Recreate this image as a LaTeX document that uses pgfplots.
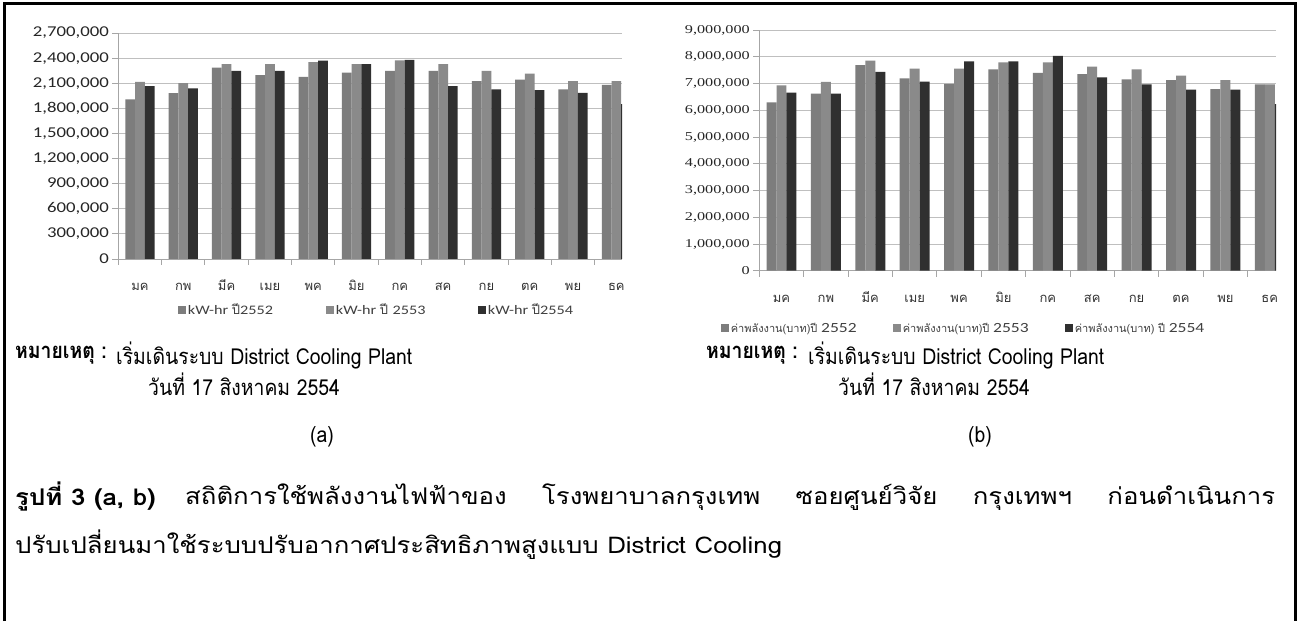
\documentclass[border=0pt]{standalone}
\usepackage{pgfplots}
\pgfplotsset{compat=1.18}
\usepackage{pgfplotstable}
\usepackage{fontspec}
\setmainfont{Loma}[Script=Thai]
\newfontfamily\thaif[Script=Thai]{Loma}
\newfontfamily\thain[Script=Thai, FakeStretch=0.88]{Loma}
\newfontfamily\thaiw[Script=Thai, FakeStretch=1.12]{Loma}
\newfontfamily\calf[FakeStretch=1.25]{Carlito}
\newfontfamily\serf[FakeStretch=1.35]{Liberation Serif}
\definecolor{ga}{HTML}{7D7D7D}
\definecolor{gb}{HTML}{8A8A8A}
\definecolor{gc}{HTML}{303030}
\definecolor{gridc}{HTML}{BFBFBF}
\definecolor{axc}{HTML}{A6A6A6}
\definecolor{legt}{HTML}{404040}

\pgfplotstableread{
m a b c
0 1906000 2116000 2065000
1 1981000 2100000 2037000
2 2287000 2327000 2247000
3 2196000 2327000 2247000
4 2176000 2351000 2370000
5 2227000 2327000 2327000
6 2247000 2374000 2378000
7 2247000 2327000 2065000
8 2124000 2247000 2025000
9 2144000 2216000 2017000
10 2025000 2124000 1985000
11 2081000 2124000 1850000
}\kwh

\pgfplotstableread{
m a b c
0 6295000 6930000 6657000
1 6620000 7056000 6620000
2 7690000 7853000 7430000
3 7190000 7554000 7068000
4 6990000 7554000 7828000
5 7530000 7790000 7830000
6 7400000 7790000 8030000
7 7350000 7630000 7230000
8 7155000 7530000 6970000
9 7130000 7290000 6770000
10 6790000 7130000 6770000
11 6970000 6970000 6230000
}\baht

\pgfplotsset{
  mybars/.style={
    scale only axis, ybar=0pt, bar width=0.225,
    xmin=-0.5, ymin=0,
    axis x line*=bottom, axis y line*=left,
    axis line style={draw=axc, line width=0.9pt},
    ymajorgrids, grid style={draw=gridc, line width=0.9pt},
    tick align=outside, major tick length=6pt,
    tick style={draw=axc, line width=0.9pt},
    xtick={-0.5,0.5,...,10.5}, xticklabels={},
    extra x ticks={0,1,2,3,4,5,6,7,8,9,10,11},
    extra x tick labels={มค,กพ,มีค,เมย,พค,มิย,กค,สค,กย,ตค,พย,ธค},
    extra x tick style={major tick length=0pt, grid=none,
      tick label style={font=\thaif\fontsize{13}{13}\selectfont, text=black!80,
        text height=12pt, text depth=3pt, yshift=-16pt}},
    scaled y ticks=false,
    yticklabel style={/pgf/number format/fixed, /pgf/number format/1000 sep={,},
      /pgf/number format/assume math mode=true, text=black!85},
    legend columns=3,
    legend style={draw=none, fill=none, inner sep=0pt, text=legt,
      /tikz/every even column/.append style={column sep=0pt}},
    legend cell align=left,
  }
}

\begin{document}
\begin{tikzpicture}[x=1pt,y=1pt]
\useasboundingbox (0,0) rectangle (1298,621);
\fill[white] (0,0) rectangle (1298,621);
% frame
\draw[line width=3pt, black] (4,0) -- (4,617) -- (1295.5,617) -- (1295.5,0);

% ---------- left chart ----------
\begin{axis}[mybars,
  at={(118.3pt,362pt)}, anchor=south west,
  width=503.7pt, height=226pt,
  xmax=11.13, ymax=2700000,
  ytick={0,300000,...,2700000},
  yticklabel style={font=\calf\fontsize{15}{15}\selectfont},
  legend style={at={(0.118,-0.226)}, anchor=west,
    font=\fontsize{13}{13}\selectfont},
]
\addplot[fill=ga, draw=none, legend image code/.code={\fill[ga] (0pt,-4pt) rectangle (8pt,4pt);}] table[x=m, y=a] {\kwh};
\addplot[fill=gb, draw=none, legend image code/.code={\fill[gb] (0pt,-4pt) rectangle (8pt,4pt);}] table[x=m, y=b] {\kwh};
\addplot[fill=gc, draw=none, legend image code/.code={\fill[gc] (0pt,-4pt) rectangle (8pt,4pt);}] table[x=m, y=c] {\kwh};
\addlegendentry{\makebox[136pt][l]{{\calf kW-hr }{\thaif ปี}{\calf 2552}}}
\addlegendentry{\makebox[140pt][l]{{\calf kW-hr }{\thaif ปี }{\calf 2553}}}
\addlegendentry{\makebox[90pt][l]{{\calf kW-hr }{\thaif ปี}{\calf 2554}}}
\end{axis}

% ---------- right chart ----------
\begin{axis}[mybars,
  at={(759.3pt,350.3pt)}, anchor=south west,
  width=516.7pt, height=240.7pt,
  xmax=11.14, ymax=9000000,
  ytick={0,1000000,...,9000000},
  yticklabel style={font=\serf\fontsize{12}{12}\selectfont},
  legend style={at={(-0.075,-0.24)}, anchor=west,
    font=\fontsize{11}{11}\selectfont},
]
\addplot[fill=ga, draw=none, legend image code/.code={\fill[ga] (0pt,-4pt) rectangle (8pt,4pt);}] table[x=m, y=a] {\baht};
\addplot[fill=gb, draw=none, legend image code/.code={\fill[gb] (0pt,-4pt) rectangle (8pt,4pt);}] table[x=m, y=b] {\baht};
\addplot[fill=gc, draw=none, legend image code/.code={\fill[gc] (0pt,-4pt) rectangle (8pt,4pt);}] table[x=m, y=c] {\baht};
\addlegendentry{\makebox[160pt][l]{{\thaif ค่าพลังงาน(บาท)ปี }{\calf\fontsize{14}{14}\selectfont 2552}}}
\addlegendentry{\makebox[160pt][l]{{\thaif ค่าพลังงาน(บาท)ปี }{\calf\fontsize{14}{14}\selectfont 2553}}}
\addlegendentry{\makebox[130pt][l]{{\thaif ค่าพลังงาน(บาท) ปี }{\calf\fontsize{14}{14}\selectfont 2554}}}
\end{axis}

% ---------- notes ----------
\begin{scope}[every node/.style={inner sep=0pt, font=\thain\fontsize{22}{22}\selectfont}]
\node[anchor=west] at (15,266) {\bfseries หมายเหตุ :};
\node[anchor=west] at (116,266) {เริ่มเดินระบบ District Cooling Plant};
\node[anchor=west] at (148,237) {วันที่ 17 สิงหาคม 2554};
\node[anchor=west] at (706,266) {\bfseries หมายเหตุ :};
\node[anchor=west] at (808,266) {เริ่มเดินระบบ District Cooling Plant};
\node[anchor=west] at (838,237) {วันที่ 17 สิงหาคม 2554};
\node at (322,184) {(a)};
\node at (980,184) {(b)};
\end{scope}
\begin{scope}[every node/.style={inner sep=0pt, font=\thaiw\fontsize{23}{23}\selectfont}]
\node[anchor=west] at (15,124) {\bfseries รูปที่ 3 (a, b)};
\node[anchor=west] at (185,124) {\makebox[1090pt][s]{สถิติการใช้พลังงานไฟฟ้าของ โรงพยาบาลกรุงเทพ ซอยศูนย์วิจัย กรุงเทพฯ ก่อนดำเนินการ}};
\node[anchor=west] at (15,76) {ปรับเปลี่ยนมาใช้ระบบปรับอากาศประสิทธิภาพสูงแบบ District Cooling};
\end{scope}
\end{tikzpicture}
\end{document}
